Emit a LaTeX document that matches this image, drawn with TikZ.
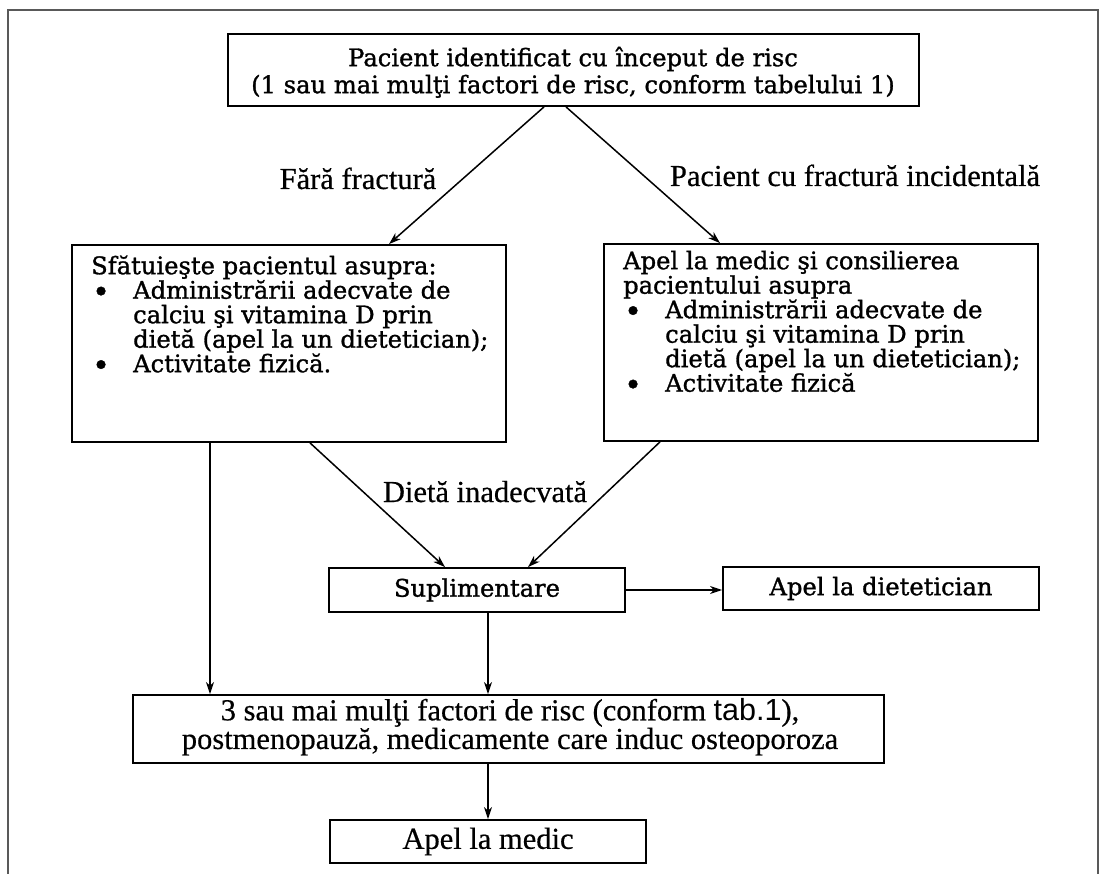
\documentclass[tikz,border=0pt]{standalone}
\usepackage{fontspec}
\usepackage{graphicx}
\setmainfont{Liberation Serif}[FakeBold=0.5]
\newfontfamily\sansf{Liberation Sans}
\newfontfamily\centf{DejaVu Serif}[FakeBold=1.2]
\usetikzlibrary{arrows.meta,calc}
\newcommand\dfont{\fontsize{30.5}{25}\selectfont}
\newcommand\cfont{\centf\fontsize{24.2}{24.5}\selectfont}
\newcommand\cfontT{\centf\fontsize{24.2}{27}\selectfont}
\newcommand\dfontB{\fontsize{30.5}{26.5}\selectfont}
\newcommand\bul{\makebox[42pt][l]{\hspace{1pt}\raisebox{-3.5pt}{\fontsize{30}{24.5}\selectfont •}}}
\newcommand\ind{\hspace*{42pt}}
\begin{document}
\begin{tikzpicture}[x=1pt,y=-1pt,
  box/.style={draw, line width=1.8pt, inner sep=0pt, font=\cfont},
  tbox/.style={draw, line width=1.8pt, inner sep=0pt, font=\dfont},
  arr/.style={-{Stealth[length=12pt,width=8pt,inset=3.5pt]}, line width=1.5pt},
  txt/.style={inner sep=0pt, font=\dfont},
  ctxt/.style={inner sep=0pt, font=\cfont},
  frame/.style={draw=black!65, line width=2pt}
]
\useasboundingbox (0,0) rectangle (1103,874);
\draw[frame] (8,874) -- (8,10) -- (1098,10) -- (1098,874);

% boxes
\node[box, minimum width=691pt, minimum height=72pt] (top) at (573.5,70) {};
\node[ctxt, font=\cfontT, anchor=north, align=center] (topt) at (573,44)
  {\rule{0pt}{22pt}Pacient identificat cu început de risc\\(1 sau mai mulţi factori de risc, conform tabelului 1)};

\node[box, minimum width=434pt, minimum height=197pt] (lb) at (289,343.5) {};
\node[ctxt, anchor=north west, align=left] (lbt) at (91,252)
  {\rule{0pt}{22pt}Sfătuieşte pacientul asupra:\\
   \bul Administrării adecvate de\\
   \ind calciu şi vitamina D prin\\
   \ind dietă (apel la un dietetician);\\
   \bul Activitate fizică.};

\node[box, minimum width=434pt, minimum height=197pt] (rb) at (821,342.5) {};
\node[ctxt, anchor=north west, align=left] (rbt) at (623,247)
  {\rule{0pt}{22pt}Apel la medic şi consilierea\\
   pacientului asupra\\
   \bul Administrării adecvate de\\
   \ind calciu şi vitamina D prin\\
   \ind dietă (apel la un dietetician);\\
   \bul Activitate fizică};

\node[box, minimum width=296pt, minimum height=44pt] (sup) at (477,590) {Suplimentare};
\node[box, minimum width=316pt, minimum height=43pt] (diet) at (881,588.5) {Apel la dietetician};

\node[tbox, minimum width=751pt, minimum height=68pt] (bot) at (508.5,729) {};
\node[txt, font=\dfontB, anchor=north, align=center] (bott) at (510,698)
  {\rule{0pt}{22pt}3 sau mai mulţi factori de risc (conform {\sansf tab.1}),\\postmenopauză, medicamente care induc osteoporoza};

\node[tbox, minimum width=316pt, minimum height=43pt] (med) at (488,841.5) {Apel la medic};

% labels
\node[txt, anchor=base] (l1) at (358,189) {Fără fractură};
\node[txt, anchor=base] (l2) at (855,186) {Pacient cu fractură incidentală};
\node[txt, anchor=base] (l3) at (485,502) {Dietă inadecvată};

% connectors
\draw[arr] ($(top.south)+(-29.5,0)$) -- ($(lb.north)+(100,0)$);
\draw[arr] ($(top.south)+(-7.5,0)$) -- ($(rb.north)+(-101,0)$);
\draw[arr] ($(lb.south)+(21,0)$) -- ($(sup.north)+(-32,0)$);
\draw[arr] ($(rb.south)+(-161,0)$) -- ($(sup.north)+(51,0)$);
\coordinate (v1) at ($(lb.south)+(-79,0)$);
\draw[arr] (v1) -- (v1 |- bot.north);
\coordinate (v2) at ($(sup.south)+(11,0)$);
\draw[arr] (v2) -- (v2 |- bot.north);
\draw[arr] (sup.east) -- (sup.east -| diet.west);
\coordinate (v3) at ($(bot.south)+(-20.5,0)$);
\draw[arr] (v3) -- (v3 |- med.north);
\end{tikzpicture}
\end{document}
